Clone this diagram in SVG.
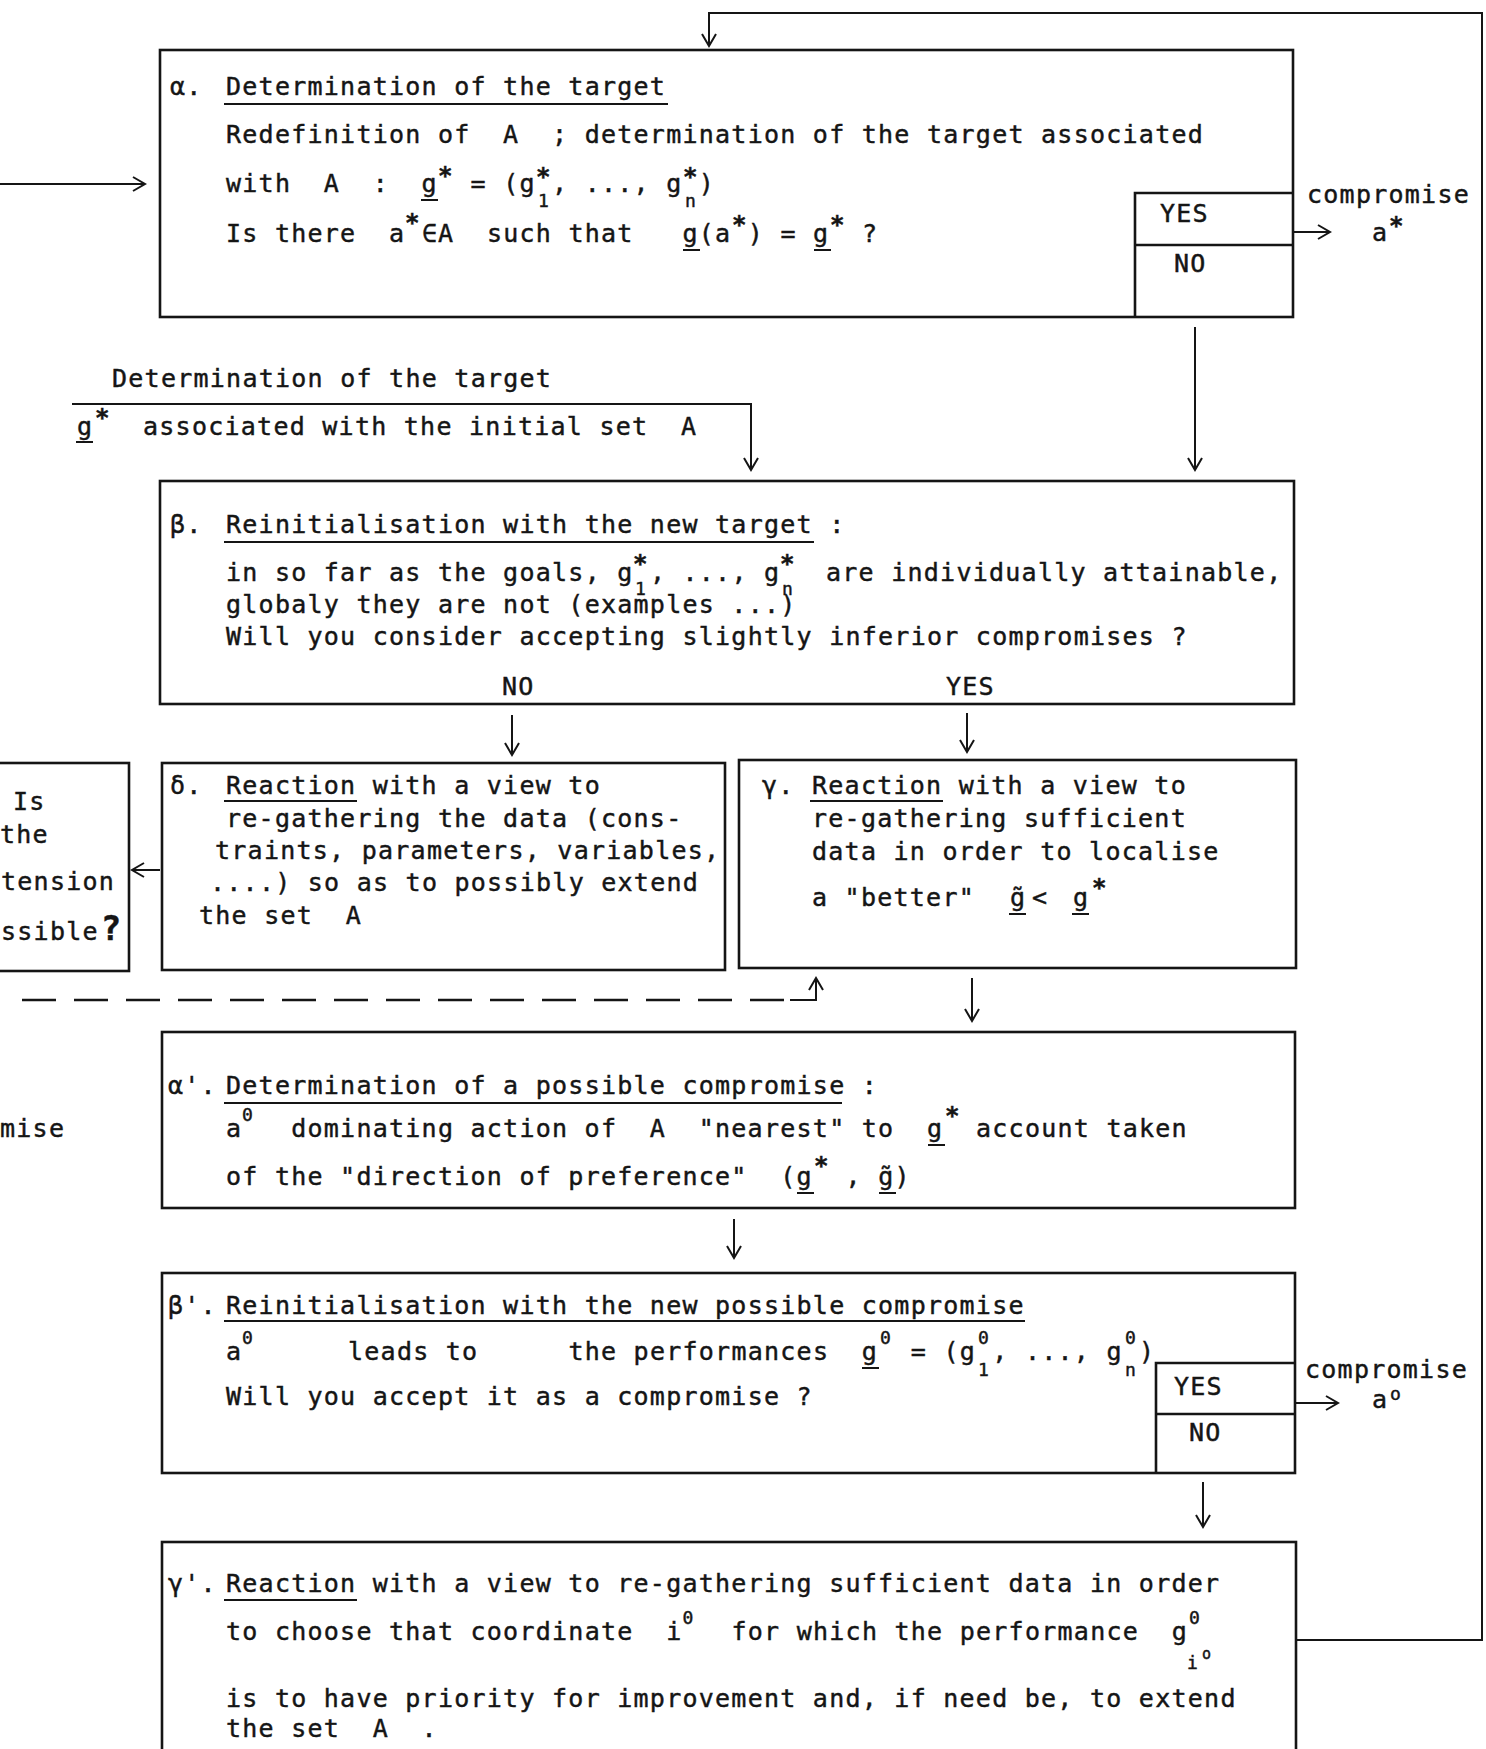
<svg xmlns="http://www.w3.org/2000/svg" width="1486" height="1749" viewBox="0 0 1486 1749" xml:space="preserve">
<style>
text{font-family:"DejaVu Sans Mono","Liberation Mono",monospace;font-size:25px;letter-spacing:1.25px;fill:#151515;stroke:#151515;stroke-width:0.45;white-space:pre}
.sup{font-size:18px;letter-spacing:0}
.sub{font-size:18px;letter-spacing:0}
.star{font-size:24px;font-weight:bold;letter-spacing:0}
.q{font-size:34px;font-weight:bold}
.box{fill:none;stroke:#151515;stroke-width:2.6}
.ln{fill:none;stroke:#151515;stroke-width:2}
.ul{stroke:#151515;stroke-width:2}
.dash{fill:none;stroke:#151515;stroke-width:2.6;stroke-dasharray:34 18}
</style>
<defs>
<marker id="ah" viewBox="-14 -9 16 18" refX="0" refY="0" markerWidth="16" markerHeight="18" markerUnits="userSpaceOnUse" orient="auto">
<path d="M-12,-7 L0,0 L-12,7" fill="none" stroke="#151515" stroke-width="2"/>
</marker>
</defs>
<rect x="0" y="0" width="1486" height="1749" fill="#fff"/>

<g id="connectors">
<path class="ln" d="M1296,1640 H1482 V13 H709 V46" marker-end="url(#ah)"/>
<path class="ln" d="M0,184 H145" marker-end="url(#ah)"/>
<path class="ln" d="M1294,232 H1330" marker-end="url(#ah)"/>
<path class="ln" d="M1195,327 V470" marker-end="url(#ah)"/>
<path class="ln" d="M72,404 H751 V470" marker-end="url(#ah)"/>
<path class="ln" d="M512,715 V755" marker-end="url(#ah)"/>
<path class="ln" d="M967,713 V752" marker-end="url(#ah)"/>
<path class="ln" d="M160,870 H132" marker-end="url(#ah)"/>
<path class="dash" d="M22,1000 H790"/>
<path class="ln" d="M790,1000 H816 V978" marker-end="url(#ah)"/>
<path class="ln" d="M972,978 V1021" marker-end="url(#ah)"/>
<path class="ln" d="M734,1219 V1258" marker-end="url(#ah)"/>
<path class="ln" d="M1294,1403 H1338" marker-end="url(#ah)"/>
<path class="ln" d="M1203,1482 V1527" marker-end="url(#ah)"/>
</g>

<g id="label-initial">
<text x="112" y="387">Determination of the target</text>
<text x="77" y="435">g<tspan class="star" x="95" y="426">*</tspan><tspan x="143" y="435">associated with the initial set  A</tspan></text>
<line class="ul" x1="76" y1="442" x2="93" y2="442"/>
</g>

<g id="node-alpha">
<rect class="box" x="160" y="50" width="1133" height="267"/>
<path class="box" d="M1135,317 V193 H1293 M1135,245 H1293"/>
<text x="170" y="95">α.</text>
<text x="226" y="95">Determination of the target</text>
<line class="ul" x1="224" y1="104" x2="668" y2="104"/>
<text x="226" y="143">Redefinition of  A  ; determination of the target associated</text>
<text x="226" y="192">with  A  :  g<tspan class="star" x="438" y="184">*</tspan><tspan x="470.6" y="192">= (g</tspan><tspan class="star" x="536" y="185">*</tspan><tspan class="sub" x="538" y="207">1</tspan><tspan x="552.1" y="192">, ..., g</tspan><tspan class="star" x="683" y="185">*</tspan><tspan class="sub" x="685" y="207">n</tspan><tspan x="698.8" y="192">)</tspan></text>
<line class="ul" x1="421" y1="200" x2="438" y2="200"/>
<text x="226" y="242">Is there  a<tspan class="star" x="405" y="231">*</tspan><tspan x="421.7" y="242">∈A  such that   g(a</tspan><tspan class="star" x="732" y="233">*</tspan><tspan x="747.8" y="242">) = g</tspan><tspan class="star" x="830" y="233">*</tspan><tspan x="861.9" y="242">?</tspan></text>
<line class="ul" x1="683" y1="250" x2="700" y2="250"/>
<line class="ul" x1="814" y1="250" x2="831" y2="250"/>
<text x="1160" y="222">YES</text>
<text x="1174" y="272">NO</text>
<text x="1307" y="203">compromise</text>
<text x="1372" y="241">a<tspan class="star" x="1389" y="234">*</tspan></text>
</g>

<g id="node-beta">
<rect class="box" x="160" y="481" width="1134" height="223"/>
<text x="170" y="533">β.</text>
<text x="226" y="533">Reinitialisation with the new target :</text>
<line class="ul" x1="224" y1="542" x2="814" y2="542"/>
<text x="226" y="581">in so far as the goals, g<tspan class="star" x="633" y="572">*</tspan><tspan class="sub" x="635" y="595">1</tspan><tspan x="649.9" y="581">, ..., g</tspan><tspan class="star" x="780" y="572">*</tspan><tspan class="sub" x="782" y="595">n</tspan><tspan x="826" y="581">are individually attainable,</tspan></text>
<text x="226" y="613">globaly they are not (examples ...)</text>
<text x="226" y="645">Will you consider accepting slightly inferior compromises ?</text>
<text x="502" y="695">NO</text>
<text x="946" y="695">YES</text>
</g>

<g id="node-extension">
<rect class="box" x="-10" y="763" width="139" height="208"/>
<text x="13" y="810">Is</text>
<text x="0" y="843">the</text>
<text x="1" y="890">tension</text>
<text x="1" y="940">ssible<tspan class="q" dx="2">?</tspan></text>
</g>

<g id="node-delta">
<rect class="box" x="162" y="763" width="563" height="207"/>
<text x="170" y="794">δ.</text>
<text x="226" y="794">Reaction with a view to</text>
<line class="ul" x1="224" y1="801" x2="357" y2="801"/>
<text x="226" y="827">re-gathering the data (cons-</text>
<text x="215" y="859">traints, parameters, variables,</text>
<text x="210" y="891">....) so as to possibly extend</text>
<text x="199" y="924">the set  A</text>
</g>

<g id="node-gamma">
<rect class="box" x="739" y="760" width="557" height="208"/>
<text x="762" y="794">γ.</text>
<text x="812" y="794">Reaction with a view to</text>
<line class="ul" x1="810" y1="801" x2="943" y2="801"/>
<text x="812" y="827">re-gathering sufficient</text>
<text x="812" y="860">data in order to localise</text>
<text x="812" y="906">a "better"<tspan x="1010" y="906">g̃</tspan><tspan x="1032" y="906">&lt;</tspan><tspan x="1073" y="906">g</tspan><tspan class="star" x="1092" y="896">*</tspan></text>
<line class="ul" x1="1009" y1="914" x2="1026" y2="914"/>
<line class="ul" x1="1072" y1="914" x2="1089" y2="914"/>
</g>

<g id="label-compromise-left">
<text x="0" y="1137">mise</text>
</g>

<g id="node-alpha-prime">
<rect class="box" x="162" y="1032" width="1133" height="176"/>
<text x="168" y="1094">α'.</text>
<text x="226" y="1094">Determination of a possible compromise :</text>
<line class="ul" x1="224" y1="1103" x2="842" y2="1103"/>
<text x="226" y="1137">a<tspan class="sup" x="242" y="1121">0</tspan><tspan x="291.2" y="1137">dominating action of  A  "nearest" to  g</tspan><tspan class="star" x="945" y="1124">*</tspan><tspan x="976" y="1137">account taken</tspan></text>
<line class="ul" x1="928" y1="1145" x2="945" y2="1145"/>
<text x="226" y="1185">of the "direction of preference"  (g<tspan class="star" x="814" y="1174">*</tspan><tspan x="845.6" y="1185">, g̃)</tspan></text>
<line class="ul" x1="797" y1="1193" x2="814" y2="1193"/>
<line class="ul" x1="879" y1="1193" x2="896" y2="1193"/>
</g>

<g id="node-beta-prime">
<rect class="box" x="162" y="1273" width="1133" height="200"/>
<path class="box" d="M1156,1473 V1363 H1295 M1156,1414 H1295"/>
<text x="168" y="1314">β'.</text>
<text x="226" y="1314">Reinitialisation with the new possible compromise</text>
<line class="ul" x1="224" y1="1321" x2="1025" y2="1321"/>
<text x="226" y="1360">a<tspan class="sup" x="242" y="1344">0</tspan><tspan x="348" y="1360">leads to</tspan><tspan x="568.4" y="1360">the performances  g</tspan><tspan class="sup" x="880" y="1344">0</tspan><tspan x="910.8" y="1360">= (g</tspan><tspan class="sup" x="978" y="1344">0</tspan><tspan class="sub" x="978" y="1376">1</tspan><tspan x="992.3" y="1360">, ..., g</tspan><tspan class="sup" x="1125" y="1344">0</tspan><tspan class="sub" x="1125" y="1376">n</tspan><tspan x="1139" y="1360">)</tspan></text>
<line class="ul" x1="862" y1="1368" x2="879" y2="1368"/>
<text x="226" y="1405">Will you accept it as a compromise ?</text>
<text x="1174" y="1395">YES</text>
<text x="1189" y="1441">NO</text>
<text x="1305" y="1378">compromise</text>
<text x="1372" y="1408">a<tspan class="sup" x="1390" y="1400">o</tspan></text>
</g>

<g id="node-gamma-prime">
<rect class="box" x="162" y="1542" width="1134" height="240"/>
<text x="168" y="1592">γ'.</text>
<text x="226" y="1592">Reaction with a view to re-gathering sufficient data in order</text>
<line class="ul" x1="224" y1="1600" x2="357" y2="1600"/>
<text x="226" y="1640">to choose that coordinate  i<tspan class="sup" x="682.5" y="1624">0</tspan><tspan x="731.5" y="1640">for which the performance  g</tspan><tspan class="sup" x="1189" y="1624">0</tspan><tspan class="sub" x="1187" y="1669">i</tspan><tspan class="sup" x="1202" y="1659" style="font-size:15px">o</tspan></text>
<text x="226" y="1707">is to have priority for improvement and, if need be, to extend</text>
<text x="226" y="1737">the set  A  .</text>
</g>
</svg>
